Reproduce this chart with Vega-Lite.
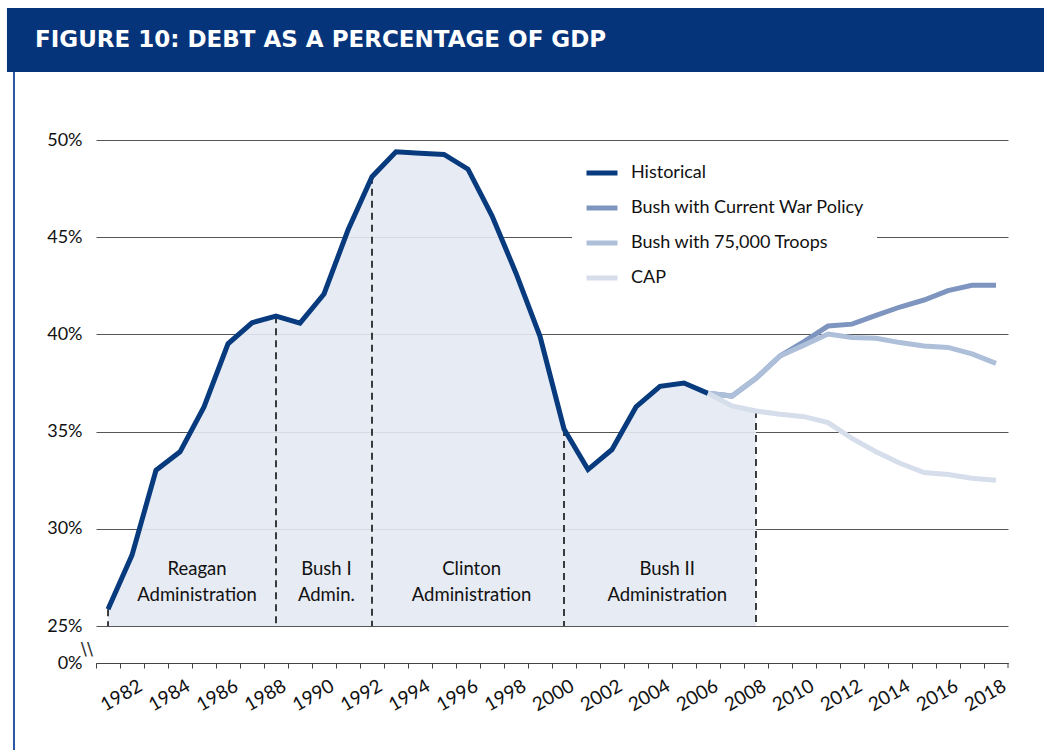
{
  "$schema": "https://vega.github.io/schema/vega-lite/v6.json",
  "width": 912,
  "height": 523,
  "autosize": {"type": "none"},
  "padding": {"left": 96, "top": 140, "right": 36, "bottom": 87},
  "background": "white",
  "config": {"view": {"stroke": null}, "font": "Lato"},
  "datasets": {
    "series": [
      {"series": "Historical", "year": 1981, "value": 25.86},
      {"series": "Historical", "year": 1982, "value": 28.65},
      {"series": "Historical", "year": 1983, "value": 33.01},
      {"series": "Historical", "year": 1984, "value": 33.96},
      {"series": "Historical", "year": 1985, "value": 36.27},
      {"series": "Historical", "year": 1986, "value": 39.52},
      {"series": "Historical", "year": 1987, "value": 40.6},
      {"series": "Historical", "year": 1988, "value": 40.94},
      {"series": "Historical", "year": 1989, "value": 40.58},
      {"series": "Historical", "year": 1990, "value": 42.08},
      {"series": "Historical", "year": 1991, "value": 45.37},
      {"series": "Historical", "year": 1992, "value": 48.11},
      {"series": "Historical", "year": 1993, "value": 49.39},
      {"series": "Historical", "year": 1994, "value": 49.32},
      {"series": "Historical", "year": 1995, "value": 49.26},
      {"series": "Historical", "year": 1996, "value": 48.5},
      {"series": "Historical", "year": 1997, "value": 46.1},
      {"series": "Historical", "year": 1998, "value": 43.15},
      {"series": "Historical", "year": 1999, "value": 39.9},
      {"series": "Historical", "year": 2000, "value": 35.14},
      {"series": "Historical", "year": 2001, "value": 33.05},
      {"series": "Historical", "year": 2002, "value": 34.08},
      {"series": "Historical", "year": 2003, "value": 36.27},
      {"series": "Historical", "year": 2004, "value": 37.33},
      {"series": "Historical", "year": 2005, "value": 37.5},
      {"series": "Historical", "year": 2006, "value": 36.97},
      {"series": "Bush with Current War Policy", "year": 2006, "value": 36.97},
      {"series": "Bush with Current War Policy", "year": 2007, "value": 36.83},
      {"series": "Bush with Current War Policy", "year": 2008, "value": 37.74},
      {"series": "Bush with Current War Policy", "year": 2009, "value": 38.89},
      {"series": "Bush with Current War Policy", "year": 2010, "value": 39.63},
      {"series": "Bush with Current War Policy", "year": 2011, "value": 40.43},
      {"series": "Bush with Current War Policy", "year": 2012, "value": 40.53},
      {"series": "Bush with Current War Policy", "year": 2013, "value": 40.98},
      {"series": "Bush with Current War Policy", "year": 2014, "value": 41.41},
      {"series": "Bush with Current War Policy", "year": 2015, "value": 41.77},
      {"series": "Bush with Current War Policy", "year": 2016, "value": 42.25},
      {"series": "Bush with Current War Policy", "year": 2017, "value": 42.53},
      {"series": "Bush with Current War Policy", "year": 2018, "value": 42.53},
      {"series": "Bush with 75,000 Troops", "year": 2006, "value": 36.97},
      {"series": "Bush with 75,000 Troops", "year": 2007, "value": 36.83},
      {"series": "Bush with 75,000 Troops", "year": 2008, "value": 37.74},
      {"series": "Bush with 75,000 Troops", "year": 2009, "value": 38.89},
      {"series": "Bush with 75,000 Troops", "year": 2010, "value": 39.45},
      {"series": "Bush with 75,000 Troops", "year": 2011, "value": 40.02},
      {"series": "Bush with 75,000 Troops", "year": 2012, "value": 39.84},
      {"series": "Bush with 75,000 Troops", "year": 2013, "value": 39.8},
      {"series": "Bush with 75,000 Troops", "year": 2014, "value": 39.58},
      {"series": "Bush with 75,000 Troops", "year": 2015, "value": 39.4},
      {"series": "Bush with 75,000 Troops", "year": 2016, "value": 39.33},
      {"series": "Bush with 75,000 Troops", "year": 2017, "value": 39.0},
      {"series": "Bush with 75,000 Troops", "year": 2018, "value": 38.51},
      {"series": "CAP", "year": 2006, "value": 36.97},
      {"series": "CAP", "year": 2007, "value": 36.32},
      {"series": "CAP", "year": 2008, "value": 36.06},
      {"series": "CAP", "year": 2009, "value": 35.89},
      {"series": "CAP", "year": 2010, "value": 35.77},
      {"series": "CAP", "year": 2011, "value": 35.46},
      {"series": "CAP", "year": 2012, "value": 34.65},
      {"series": "CAP", "year": 2013, "value": 33.97},
      {"series": "CAP", "year": 2014, "value": 33.37},
      {"series": "CAP", "year": 2015, "value": 32.9},
      {"series": "CAP", "year": 2016, "value": 32.8},
      {"series": "CAP", "year": 2017, "value": 32.6},
      {"series": "CAP", "year": 2018, "value": 32.5}
    ],
    "admins": [
      {"label": "Reagan\nAdministration", "year": 1984.71},
      {"label": "Bush I\nAdmin.", "year": 1990.1},
      {"label": "Clinton\nAdministration", "year": 1996.15},
      {"label": "Bush II\nAdministration", "year": 2004.3}
    ]
  },
  "layer": [
    {
      "data": {"name": "series"},
      "transform": [
        {"filter": "datum.series == 'Historical' || (datum.series == 'CAP' && datum.year > 2006 && datum.year <= 2008)"}
      ],
      "mark": {"type": "area", "color": "#e4e9f2", "opacity": 0.9},
      "encoding": {
        "x": {
          "field": "year", "type": "quantitative",
          "scale": {"domain": [1980.5, 2018.5], "nice": false, "zero": false},
          "axis": {
            "title": null,
            "values": [1981, 1982, 1983, 1984, 1985, 1986, 1987, 1988, 1989, 1990, 1991, 1992, 1993, 1994, 1995, 1996, 1997, 1998, 1999, 2000, 2001, 2002, 2003, 2004, 2005, 2006, 2007, 2008, 2009, 2010, 2011, 2012, 2013, 2014, 2015, 2016, 2017, 2018],
            "tickCount": 200,
            "labelExpr": "datum.value % 2 == 0 ? format(datum.value, 'd') : ''",
            "grid": false,
            "tickOffset": -12,
            "labelAngle": -30,
            "labelAlign": "right",
            "labelBaseline": "middle",
            "labelPadding": 16,
            "labelOffset": 20,
            "labelOverlap": false,
            "labelBound": false,
            "labelFlush": false,
            "tickSize": 5,
            "tickColor": "#444444",
            "domainColor": "#444444",
            "labelFontSize": 19,
            "labelColor": "#111111",
            "encode": {"labels": {"update": {"dx": {"value": 18}}}}
          }
        },
        "y": {
          "field": "value", "type": "quantitative",
          "scale": {"domain": [23.1, 50], "nice": false, "zero": false},
          "axis": {
            "title": null,
            "values": [23.1, 25, 30, 35, 40, 45, 50],
            "tickCount": 200,
            "labelExpr": "datum.value < 24 ? '0%' : format(datum.value, 'd') + '%'",
            "ticks": false,
            "tickSize": 0,
            "domain": false,
            "grid": true,
            "gridColor": "#555555",
            "gridWidth": 1,
            "labelPadding": 14,
            "labelFontSize": 18,
            "labelColor": "#111111"
          }
        },
        "y2": {"datum": 25}
      }
    },
    {
      "data": {"values": [{}]},
      "mark": {"type": "rule", "color": "#444444", "strokeWidth": 1},
      "encoding": {
        "x": {"datum": 2018.5, "type": "quantitative"},
        "y": {"datum": 23.1, "type": "quantitative"},
        "y2": {"datum": 22.843}
      }
    },
    {
      "data": {"values": [{}]},
      "mark": {"type": "rect", "color": "#06347a"},
      "encoding": {
        "x": {"datum": 1976.79, "type": "quantitative"},
        "x2": {"datum": 2020.0},
        "y": {"datum": 56.79, "type": "quantitative"},
        "y2": {"datum": 53.5}
      }
    },
    {
      "data": {"values": [{}]},
      "mark": {"type": "text", "color": "white", "font": "DejaVu Sans", "fontWeight": "bold", "fontSize": 23, "align": "left", "baseline": "middle"},
      "encoding": {
        "x": {"datum": 1977.958, "type": "quantitative"},
        "y": {"datum": 55.14, "type": "quantitative"},
        "text": {"value": "FIGURE 10: DEBT AS A PERCENTAGE OF GDP"}
      }
    },
    {
      "data": {"values": [{}]},
      "mark": {"type": "rule", "color": "#2a57a2", "strokeWidth": 2},
      "encoding": {
        "x": {"datum": 1977.083, "type": "quantitative"},
        "y": {"datum": 53.5, "type": "quantitative"},
        "y2": {"datum": 18.6}
      }
    },
    {
      "data": {"values": [{}]},
      "mark": {"type": "text", "color": "#333333", "fontSize": 18, "align": "center", "baseline": "middle", "font": "DejaVu Sans"},
      "encoding": {
        "x": {"datum": 1980.12, "type": "quantitative"},
        "y": {"datum": 23.75, "type": "quantitative"},
        "text": {"value": "\\\\"}
      }
    },
    {
      "data": {"name": "series"},
      "transform": [
        {"filter": "(datum.series == 'Historical' && indexof([1981, 1988, 1992, 2000], datum.year) >= 0) || (datum.series == 'CAP' && datum.year == 2008)"}
      ],
      "mark": {"type": "rule", "color": "#000000", "strokeWidth": 1.5, "strokeDash": [7, 5]},
      "encoding": {
        "x": {"field": "year", "type": "quantitative"},
        "y": {"field": "value", "type": "quantitative"},
        "y2": {"datum": 25}
      }
    },
    {
      "data": {"name": "admins"},
      "mark": {"type": "text", "fontSize": 18.5, "color": "#111111", "align": "center", "baseline": "middle", "lineBreak": "\n", "lineHeight": 26},
      "encoding": {
        "x": {"field": "year", "type": "quantitative"},
        "y": {"datum": 27.94, "type": "quantitative"},
        "text": {"field": "label"}
      }
    },
    {
      "data": {"name": "series"},
      "mark": {"type": "line", "strokeWidth": 5},
      "encoding": {
        "x": {"field": "year", "type": "quantitative"},
        "y": {"field": "value", "type": "quantitative"},
        "color": {
          "field": "series", "type": "nominal",
          "scale": {
            "domain": ["Historical", "Bush with Current War Policy", "Bush with 75,000 Troops", "CAP"],
            "range": ["#083a7e", "#7d95bf", "#aebfda", "#d6deeb"]
          },
          "legend": {
            "title": null,
            "orient": "none",
            "legendX": 476,
            "legendY": 3,
            "fillColor": "white",
            "padding": 12,
            "symbolType": "stroke",
            "symbolSize": 961,
            "symbolStrokeWidth": 5,
            "labelFontSize": 18,
            "labelColor": "#111111",
            "labelOffset": 11,
            "rowPadding": 7,
            "labelLimit": 400
          }
        }
      }
    }
  ]
}
